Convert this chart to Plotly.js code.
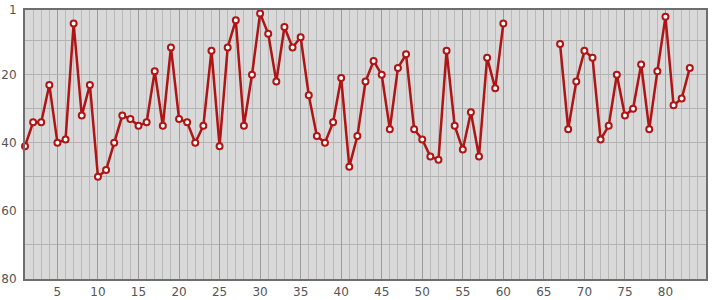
<!DOCTYPE html>
<html>
<head>
<meta charset="utf-8">
<script src="https://cdn.plot.ly/plotly-3.0.1.min.js"></script>
<style>
html,body{margin:0;padding:0;background:#fff;}
#chart{width:715px;height:300px;}
</style>
</head>
<body>
<div id="chart"></div>
<script>
const xValues = [1,2,3,4,5,6,7,8,9,10,11,12,13,14,15,16,17,18,19,20,21,22,23,24,25,26,27,28,29,30,31,32,33,34,35,36,37,38,39,40,41,42,43,44,45,46,47,48,49,50,51,52,53,54,55,56,57,58,59,60,61,62,63,64,65,66,67,68,69,70,71,72,73,74,75,76,77,78,79,80,81,82,83];
const rankValues = [41,34,34,23,40,39,5,32,23,50,48,40,32,33,35,34,19,35,12,33,34,40,35,13,41,12,4,35,20,2,8,22,6,12,9,26,38,40,34,21,47,38,22,16,20,36,18,14,36,39,44,45,13,35,42,31,44,15,24,5,null,null,null,null,null,null,11,36,22,13,15,39,35,20,32,30,17,36,19,3,29,27,18];
const xTickVals = [5,10,15,20,25,30,35,40,45,50,55,60,65,70,75,80];
const yTickVals = [1,20,40,60,80];
const yMinorVals = [10,30,50,70];

const trace = {
  x: xValues,
  y: rankValues,
  type: 'scatter',
  mode: 'lines+markers',
  connectgaps: false,
  line: {color: '#b01414', width: 2.5},
  marker: {symbol: 'circle', size: 6, color: '#ffffff', line: {color: '#b01414', width: 2}},
  hoverinfo: 'x+y',
  cliponaxis: false
};

const layout = {
  width: 715,
  height: 300,
  margin: {l: 25, r: 9, t: 10, b: 21, pad: 0},
  paper_bgcolor: '#ffffff',
  plot_bgcolor: '#d9d9d9',
  showlegend: false,
  font: {family: 'DejaVu Sans, sans-serif', size: 12, color: '#555555'},
  xaxis: {
    range: [1, 85],
    tickmode: 'array',
    tickvals: xTickVals,
    ticks: '',
    showgrid: true,
    gridcolor: '#9c9c9c',
    gridwidth: 1,
    zeroline: false,
    showline: true,
    linecolor: '#6e6e6e',
    linewidth: 2,
    mirror: true,
    ticklabelstandoff: 1,
    minor: {dtick: 1, tick0: 0, showgrid: true, gridcolor: '#b9b9b9', gridwidth: 1, ticks: ''}
  },
  yaxis: {
    range: [80, 1],
    tickmode: 'array',
    tickvals: yTickVals,
    ticks: '',
    showgrid: true,
    gridcolor: '#b3b3b3',
    gridwidth: 1,
    zeroline: false,
    showline: true,
    linecolor: '#6e6e6e',
    linewidth: 2,
    mirror: true,
    ticklabelstandoff: 4,
    minor: {tickmode: 'array', tickvals: yMinorVals, showgrid: true, gridcolor: '#b3b3b3', gridwidth: 1, ticks: ''}
  }
};

Plotly.newPlot('chart', [trace], layout, {displayModeBar: false, staticPlot: true});
</script>
</body>
</html>
